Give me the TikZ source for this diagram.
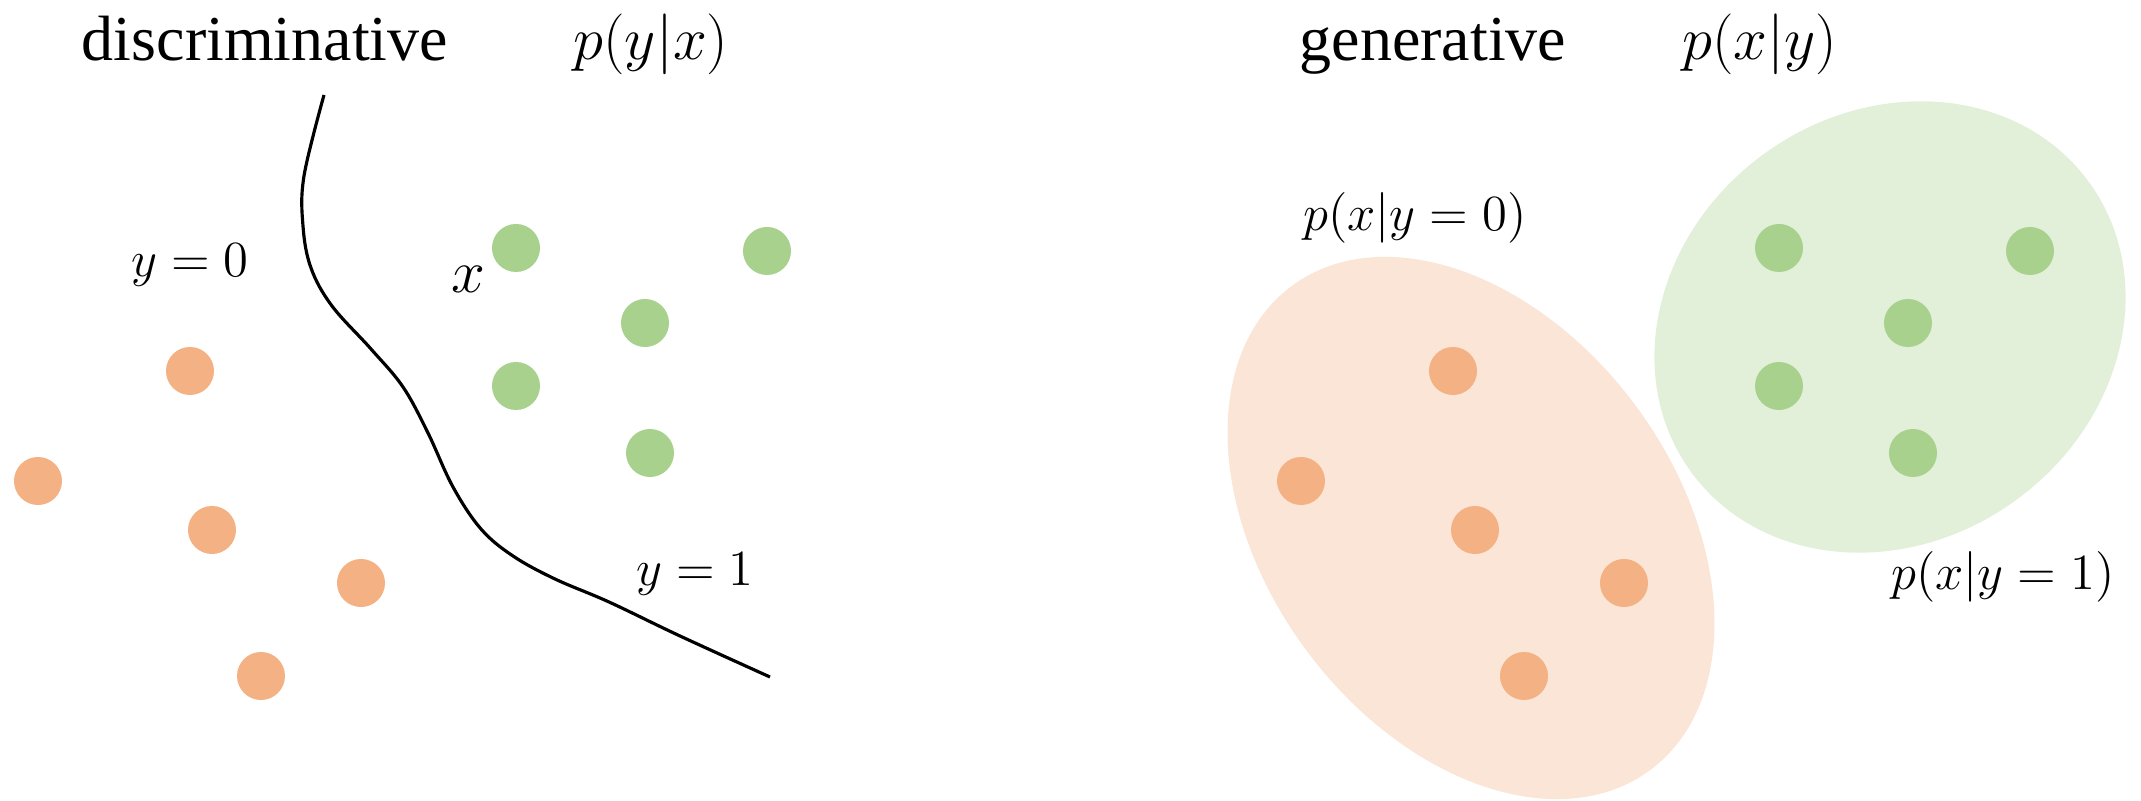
\documentclass[tikz,border=0pt]{standalone}
\usepackage[no-math]{fontspec}
\setmainfont{Liberation Serif}
\definecolor{dotorange}{HTML}{F4B183}
\definecolor{dotgreen}{HTML}{A9D18E}
\definecolor{fillorange}{HTML}{FBE5D6}
\definecolor{fillgreen}{HTML}{E2F0D9}
\tikzset{
  odot/.style={circle, fill=dotorange, inner sep=0pt, minimum size=0.48cm},
  gdot/.style={circle, fill=dotgreen, inner sep=0pt, minimum size=0.48cm},
  title/.style={anchor=base, inner sep=0pt, font=\fontsize{18.2pt}{20pt}\selectfont},
  mtitle/.style={anchor=base, inner sep=0pt, font=\fontsize{19pt}{21pt}\selectfont},
  small/.style={anchor=base, inner sep=0pt, font=\fontsize{14.5pt}{16pt}\selectfont},
  boundary/.style={line width=0.9pt, black},
}
\begin{document}
\begin{tikzpicture}[x=0.01cm, y=-0.01cm]
\useasboundingbox (0,0) rectangle (2141,801);

% titles
\node[title] (tdisc) at (265,61) {discriminative};
\node[mtitle] (tpyx) at (651,60) {$p(y|x)$};
\node[title] (tgen) at (1433,61) {generative};
\node[mtitle] (tpxy) at (1760,60) {$p(x|y)$};

% left panel
\draw[boundary] plot[smooth, tension=0.6] coordinates {(324,95) (304,176) (303,226) (311,268) (332,306) (371,349) (403,387) (428,433) (453,487) (481,529) (513,556) (555,579) (609,602) (680,636) (770,677)};

\node[odot] (lo1) at (190,371) {};
\node[odot] (lo2) at (38,481) {};
\node[odot] (lo3) at (212,530) {};
\node[odot] (lo4) at (361,583) {};
\node[odot] (lo5) at (261,676) {};

\node[gdot] (lg1) at (516,248) {};
\node[gdot] (lg2) at (767,251) {};
\node[gdot] (lg3) at (645,323) {};
\node[gdot] (lg4) at (516,386) {};
\node[gdot] (lg5) at (650,453) {};

\node[small] (ly0) at (190,277) {$y=0$};
\node[small] (ly1) at (695,586) {$y=1$};
\node[anchor=base, inner sep=0pt, font=\fontsize{17pt}{18pt}\selectfont] (lx) at (468,293) {$x$};

% right panel
\fill[fillorange, rotate around={-53.5:(1471,528)}] (1471,528) ellipse [x radius=3.01cm, y radius=2.05cm];
\fill[fillgreen, rotate around={36:(1890,327)}] (1890,327) ellipse [x radius=2.46cm, y radius=2.14cm];

\node[odot] (ro1) at (1453,371) {};
\node[odot] (ro2) at (1301,481) {};
\node[odot] (ro3) at (1475,530) {};
\node[odot] (ro4) at (1624,583) {};
\node[odot] (ro5) at (1524,676) {};

\node[gdot] (rg1) at (1779,248) {};
\node[gdot] (rg2) at (2030,251) {};
\node[gdot] (rg3) at (1908,323) {};
\node[gdot] (rg4) at (1779,386) {};
\node[gdot] (rg5) at (1913,453) {};

\node[small] (rp0) at (1415,231) {$p(x|y=0)$};
\node[small] (rp1) at (2003,590) {$p(x|y=1)$};
\end{tikzpicture}
\end{document}
